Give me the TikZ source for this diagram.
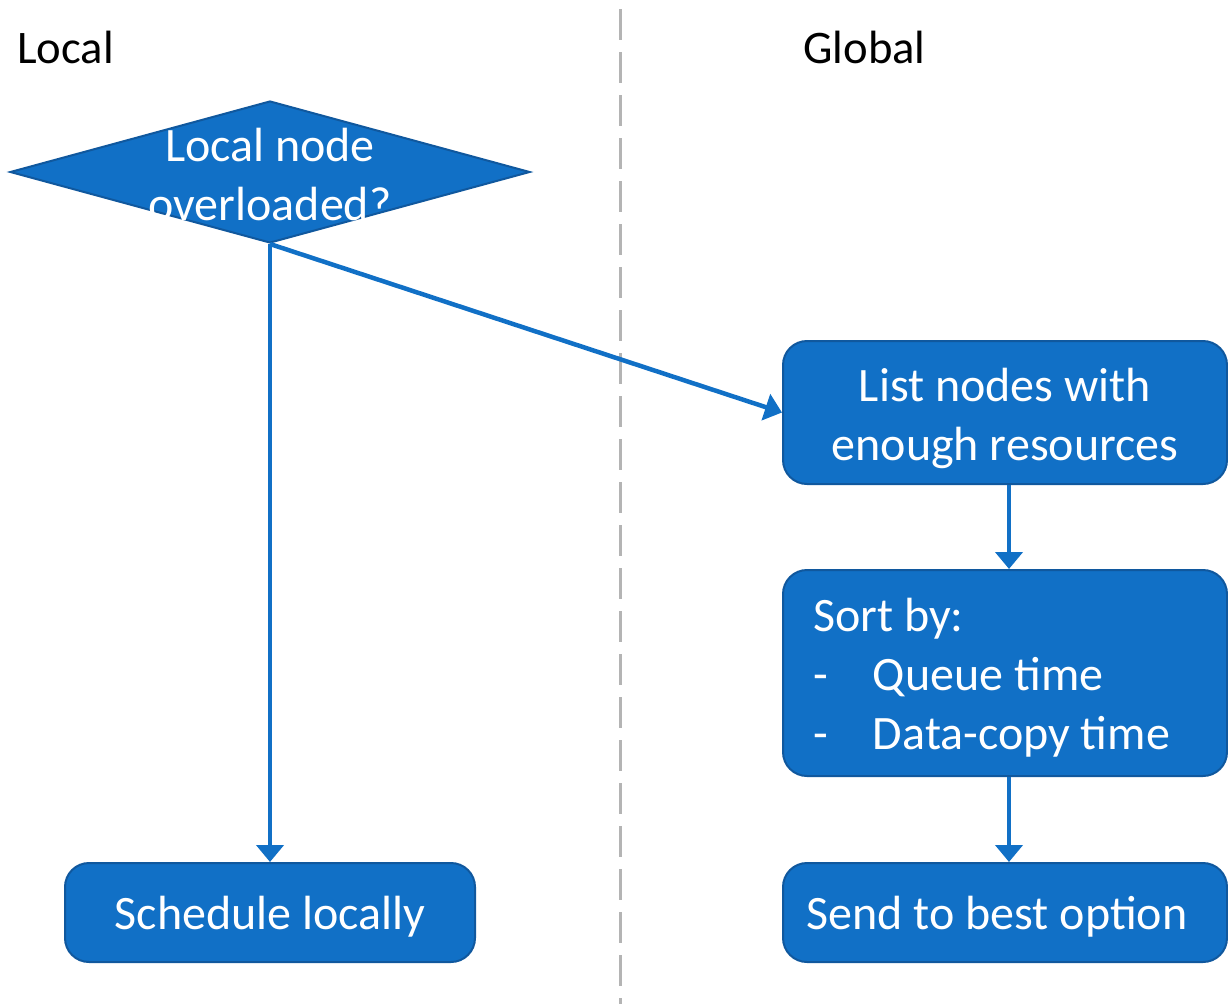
\documentclass[tikz,border=0pt]{standalone}
\usepackage{fontspec}
\setmainfont{Carlito}
\usetikzlibrary{shapes.geometric,arrows.meta}
\definecolor{boxfill}{RGB}{17,112,198}
\definecolor{boxline}{RGB}{16,88,158}
\definecolor{divider}{RGB}{180,180,180}
\def\px{0.75pt}
\newcommand\txtdown[2]{\raisebox{-#1}[\height][\depth]{#2}}
\tikzset{
  flowbox/.style={draw=boxline, line width=2*\px, fill=boxfill, rounded corners=24*\px,
    text=white, inner sep=0pt, font=\fontsize{36}{44.25}\selectfont},
  decbox/.style={diamond, draw=boxline, line width=2*\px, fill=boxfill, inner sep=0pt,
    minimum width=520*\px, minimum height=142*\px},
  flowarrow/.style={draw=boxfill, line width=4.5*\px,
    -{Triangle[width=27*\px,length=17*\px]}},
  title/.style={font=\fontsize{35}{42}\selectfont, anchor=base west, inner sep=0pt},
  sep/.style={draw=divider, line width=3*\px, dash pattern=on 31*\px off 12*\px}
}
\begin{document}
\begin{tikzpicture}[x=0.75pt, y=-0.75pt]
\useasboundingbox (0,0) rectangle (1228,1004);
% divider
\coordinate (septop) at (620,9);
\coordinate (sepbot) at (620,1004);
\draw[sep] (septop) -- (sepbot);
% titles
\node[title] (tlocal) at (17,63) {Local};
\node[title] (tglobal) at (803,63) {Global};
% decision
\node[decbox] (dec) at (270,172) {};
\node[text=white, align=center, inner sep=0pt, font=\fontsize{36}{44.25}\selectfont] (dectext) at (270,175) {Local node\\overloaded?};
% boxes
\node[flowbox, minimum width=410*\px, minimum height=99*\px] (sched) at (270,912.5)
  {\txtdown{3pt}{Schedule locally}};
\node[flowbox, minimum width=444*\px, minimum height=143*\px] (list) at (1005,412.5)
  {\txtdown{5.25pt}{\begin{tabular}{@{}c@{}}List nodes with\\enough resources\end{tabular}}};
\node[flowbox, minimum width=444*\px, minimum height=206*\px, text width=384*\px, align=flush left] (sort) at (1005,673)
  {\txtdown{4.5pt}{\begin{tabular}{@{}l@{}}Sort by:\\\makebox[45pt][l]{-}Queue time\\\makebox[45pt][l]{-}Data-copy time\end{tabular}}};
\node[flowbox, minimum width=444*\px, minimum height=99*\px] (send) at (1005,912.5)
  {\txtdown{3pt}{\hspace*{-12pt}Send to best option}};
% connectors
\coordinate (ax) at (1009,0);
\draw[flowarrow] (dec.south) -- (sched.north);
\draw[flowarrow] (dec.south) -- (list.west);
\draw[flowarrow] (list.south -| ax) -- (sort.north -| ax);
\draw[flowarrow] (sort.south -| ax) -- (send.north -| ax);
\end{tikzpicture}
\end{document}
